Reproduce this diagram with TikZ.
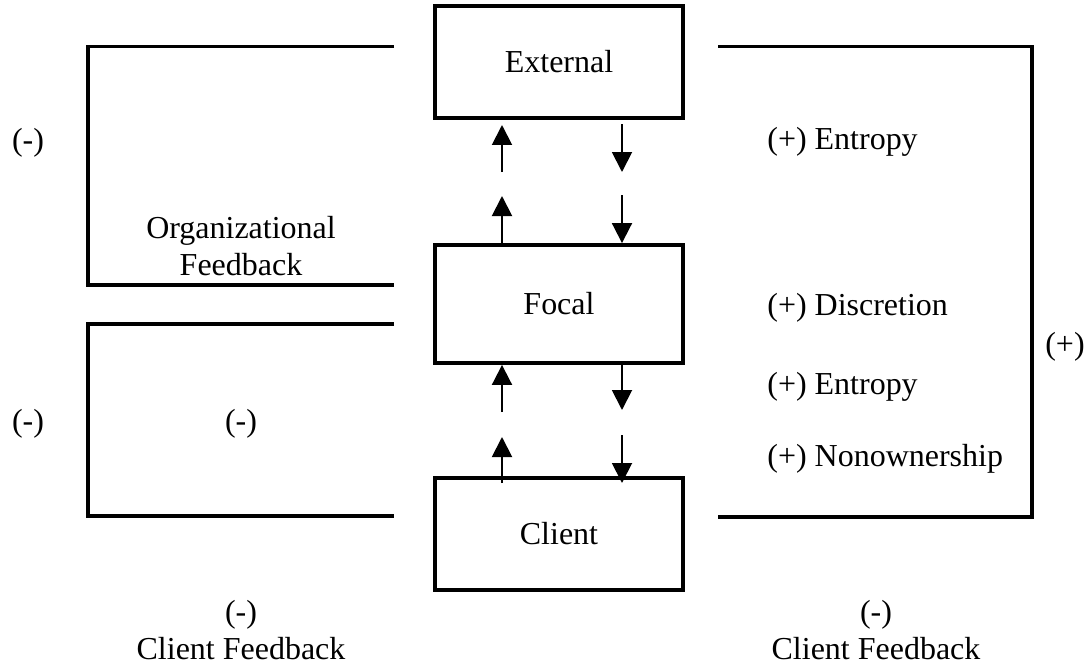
\documentclass[tikz,border=0pt]{standalone}
\usepackage{fontspec}
\setmainfont{Liberation Serif}
\usetikzlibrary{arrows.meta}
\tikzstyle{cbox}=[rectangle, draw, line width=2.2pt, minimum width=4.96cm, minimum height=2.24cm]
\tikzstyle{cline}=[line width=2.2pt]
\tikzstyle{carr}=[line width=1.1pt, -{Triangle[width=0.4cm,length=0.4cm]}]
\tikzstyle{clab}=[inner sep=0pt, align=center]

\begin{document}
\begin{tikzpicture}[font=\fontsize{18.2}{21}\selectfont]
\useasboundingbox (0,0) rectangle (21.78,13.38);

\node[cbox] (ext) at (11.18,12.14) {External};
\node[cbox, minimum height=2.36cm] (foc) at (11.18,7.30) {Focal};
\node[cbox] (cli) at (11.18,2.70) {Client};

\coordinate (u1s) at (10.04,9.94);
\coordinate (u1t) at (10.04,10.88);
\coordinate (u2t) at (10.04,9.46);
\coordinate (d1s) at (12.44,10.90);
\coordinate (d1t) at (12.44,9.94);
\coordinate (d2s) at (12.44,9.48);
\coordinate (u3s) at (10.04,5.14);
\coordinate (u4s) at (10.04,3.72);
\coordinate (u4t) at (10.04,4.64);
\coordinate (d3t) at (12.44,5.18);
\coordinate (d4s) at (12.44,4.68);
\coordinate (d4t) at (12.44,3.72);

\draw[carr] (u1s) -- (u1t);
\draw[carr] (foc.north -| u2t) -- (u2t);
\draw[carr] (d1s) -- (d1t);
\draw[carr] (d2s) -- (foc.north -| d2s);
\draw[carr] (u3s) -- (foc.south -| u3s);
\draw[carr] (u4s) -- (u4t);
\draw[carr] (foc.south -| d3t) -- (d3t);
\draw[carr] (d4s) -- (d4t);

\draw[cline] (7.88,12.45) -- (1.76,12.45) -- (1.76,7.68) -- (7.88,7.68);
\draw[cline] (7.88,6.90) -- (1.76,6.90) -- (1.76,3.06) -- (7.88,3.06);
\draw[cline] (14.36,12.45) -- (20.64,12.45) -- (20.64,3.04) -- (14.36,3.04);

\node[clab] (m1) at (0.56,10.52) {(-)};
\node[clab] (m2) at (0.56,4.90) {(-)};
\node[clab] (orgfb) at (4.82,8.45) {Organizational\\Feedback};
\node[clab] (m3) at (4.82,4.90) {(-)};
\node[clab] (clfb1) at (4.82,0.78) {(-)\\Client Feedback};
\node[clab] (clfb2) at (17.52,0.78) {(-)\\Client Feedback};
\node[clab] (p0) at (21.30,6.44) {(+)};

\node[clab, anchor=west] (p1) at (15.34,10.54) {(+) Entropy};
\node[clab, anchor=west] (p2) at (15.34,7.22) {(+) Discretion};
\node[clab, anchor=west] (p3) at (15.34,5.64) {(+) Entropy};
\node[clab, anchor=west] (p4) at (15.34,4.20) {(+) Nonownership};

\end{tikzpicture}
\end{document}
